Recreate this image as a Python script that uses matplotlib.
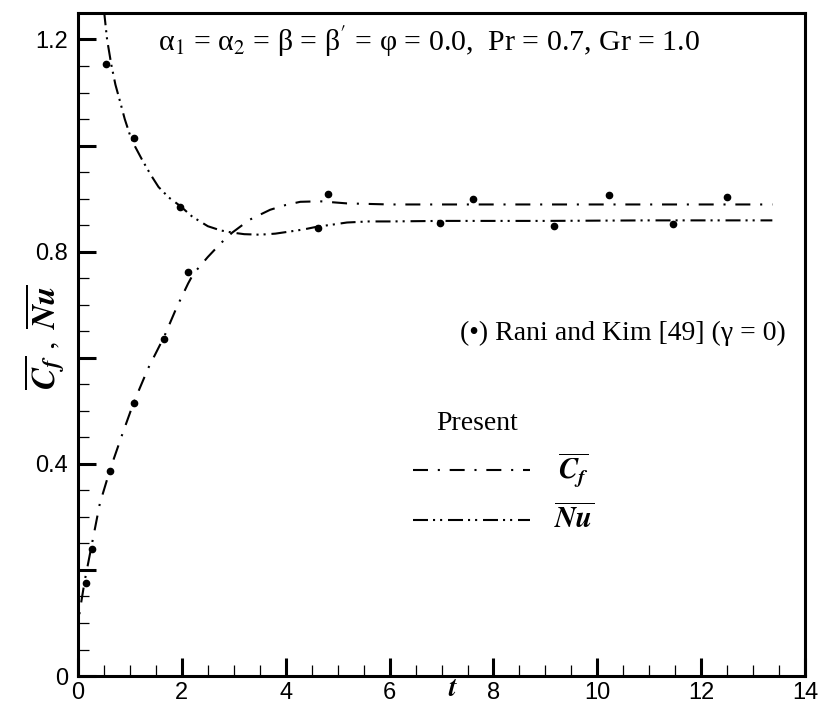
import numpy as np
import matplotlib
matplotlib.use('Agg')
import matplotlib.pyplot as plt
from matplotlib.ticker import MultipleLocator

plt.rcParams['mathtext.fontset'] = 'stix'

# present solution: average skin friction and Nusselt number vs time
t_cf = [0.0, 0.03, 0.08, 0.13, 0.2, 0.27, 0.35, 0.42, 0.62, 0.85, 1.07, 1.35, 1.66, 1.9, 2.12,
        2.22, 2.5, 2.75, 2.97, 3.3, 3.7, 4.0, 4.28, 4.66, 5.18, 5.6, 6.0, 7.0, 9.0, 11.0, 13.37]
cf = [0.07, 0.12, 0.15, 0.18, 0.215, 0.25, 0.29, 0.325, 0.39, 0.455, 0.515, 0.58, 0.64, 0.695, 0.74,
      0.758, 0.79, 0.816, 0.836, 0.86, 0.879, 0.888, 0.894, 0.895, 0.891, 0.89, 0.889, 0.889, 0.889, 0.889, 0.889]

t_nu = [0.5, 0.56, 0.64, 0.72, 0.81, 0.9, 1.0, 1.1, 1.23, 1.4, 1.55, 1.75, 1.97, 2.2, 2.5, 2.75,
        2.97, 3.2, 3.5, 3.8, 4.08, 4.35, 4.6, 4.9, 5.18, 5.6, 6.0, 7.0, 9.0, 11.0, 13.37]
nu = [1.255, 1.2, 1.153, 1.115, 1.083, 1.05, 1.02, 0.998, 0.974, 0.945, 0.922, 0.902, 0.886, 0.866, 0.848, 0.84,
      0.836, 0.833, 0.832, 0.834, 0.838, 0.842, 0.847, 0.851, 0.855, 0.857, 0.857, 0.858, 0.858, 0.859, 0.859]

# Rani and Kim [49] reference points
rk_t_cf = [0.15, 0.27, 0.62, 1.07, 1.66, 2.12, 4.82, 7.61, 10.23, 12.5]
rk_cf = [0.175, 0.24, 0.387, 0.515, 0.636, 0.762, 0.909, 0.90, 0.906, 0.903]
rk_t_nu = [0.54, 1.08, 1.97, 4.62, 6.97, 9.17, 11.45]
rk_nu = [1.153, 1.015, 0.885, 0.845, 0.854, 0.848, 0.853]

cf_style = (0, (7.2, 4.7, 1.0, 4.7))
nu_style = (0, (7.2, 2.4, 1.0, 2.4, 1.0, 2.8))

fig = plt.figure(figsize=(8.22, 7.09), dpi=100)
ax = fig.add_axes([0.0949, 0.0465, 0.8845, 0.9352])

ax.plot(t_cf, cf, color='black', lw=1.5, linestyle=cf_style)
ax.plot(t_nu, nu, color='black', lw=1.5, linestyle=nu_style)
ax.plot(rk_t_cf, rk_cf, 'o', color='black', ms=4.5, linestyle='none')
ax.plot(rk_t_nu, rk_nu, 'o', color='black', ms=4.5, linestyle='none')

ax.set_xlim(0, 14)
ax.set_ylim(0, 1.25)
ax.xaxis.set_minor_locator(MultipleLocator(0.5))
ax.yaxis.set_minor_locator(MultipleLocator(0.05))
ax.tick_params(which='both', direction='in', top=False, right=False)
ax.tick_params(which='major', length=13, width=2.2)
ax.tick_params(which='minor', length=8, width=0.9)
ax.tick_params(axis='x', which='major', pad=4)
ax.tick_params(axis='y', which='major', pad=7)
ax.set_xticks([0, 2, 4, 6, 8, 10, 12, 14])
ax.set_xticklabels(['0', '2', '4', '6', '8', '10', '12', '14'], fontsize=17, family='Liberation Sans')
ax.set_yticks([0, 0.2, 0.4, 0.6, 0.8, 1.0, 1.2])
ax.set_yticklabels(['0', '', '0.4', '', '0.8', '', '1.2'], fontsize=17, family='Liberation Sans')
for s in ax.spines.values():
    s.set_linewidth(2.2)

ax.text(7.23, -0.023, r'$\mathbfit{t}$', fontsize=20, ha='center', va='center')
ax.text(-0.65, 0.64, r'$\overline{\mathbfit{C_f}}\ ,\ \overline{\mathbfit{Nu}}$',
        fontsize=24, rotation=90, ha='center', va='center')

ax.text(6.75, 1.195, 'α$_1$ = α$_2$ = β = β$^{\\prime}$ = φ = 0.0,  Pr = 0.7, Gr = 1.0',
        fontsize=21.5, family='Liberation Serif', ha='center', va='center')
ax.text(10.5, 0.646, '(•) Rani and Kim [49] (γ = 0)',
        fontsize=20, family='Liberation Serif', ha='center', va='center')
ax.text(7.69, 0.477, 'Present', fontsize=20, family='Liberation Serif', ha='center', va='center')

# legend lines drawn in data coords
ax.plot([6.45, 8.7], [0.388, 0.388], color='black', lw=1.5, linestyle=cf_style)
ax.plot([6.45, 8.7], [0.295, 0.295], color='black', lw=1.5, linestyle=nu_style)
ax.text(9.55, 0.388, r'$\overline{\mathbfit{C_f}}$', fontsize=21, ha='center', va='center')
ax.text(9.55, 0.295, r'$\overline{\mathbfit{Nu}}$', fontsize=21, ha='center', va='center')

fig.savefig('out.png', dpi=100)
